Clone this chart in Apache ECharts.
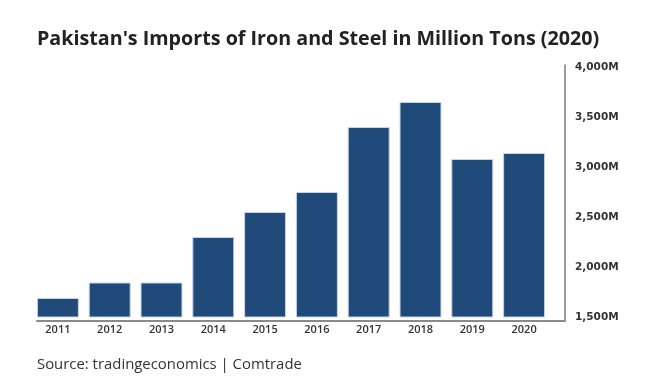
<!DOCTYPE html>
<html>
<head>
<meta charset="utf-8">
<script src="https://cdn.jsdelivr.net/npm/echarts@6/dist/echarts.min.js"></script>
<style>html,body{margin:0;padding:0;background:#fff;}#c{width:652px;height:390px;}</style>
</head>
<body>
<div id="c"></div>
<script>
const years = ['2011','2012','2013','2014','2015','2016','2017','2018','2019','2020'];
const imports = [1690, 1845, 1845, 2300, 2550, 2750, 3400, 3650, 3080, 3140];
const yTicks = [1500, 2000, 2500, 3000, 3500, 4000];
const titleText = "Pakistan's Imports of Iron and Steel in Million Tons (2020)";
const sourceText = 'Source: tradingeconomics | Comtrade';

const chart = echarts.init(document.getElementById('c'), null, {renderer: 'canvas'});
const fontFam = '"Open Sans", Lato, sans-serif';
const axisFam = '"DejaVu Sans", "Open Sans", sans-serif';
chart.setOption({
  backgroundColor: '#ffffff',
  animation: false,
  title: [
    {text: titleText, left: 37, top: 29, padding: 0,
     textStyle: {fontFamily: fontFam, fontSize: 19.7, fontWeight: 'bold', color: '#222'}},
    {text: sourceText, left: 37, top: 357, padding: 0,
     textStyle: {fontFamily: fontFam, fontSize: 14.9, fontWeight: 'normal', color: '#333'}}
  ],
  grid: [
    {left: 32, right: 102, top: 67, bottom: 73},
    {left: 37, right: 87, top: 65, bottom: 69}
  ],
  xAxis: [
    {type: 'category', data: years, gridIndex: 0,
     axisLine: {show: false}, axisTick: {show: false},
     axisLabel: {margin: 7, color: '#333', fontFamily: fontFam, fontSize: 11, fontWeight: 600}},
    {type: 'value', gridIndex: 1, min: 0, max: 1,
     axisLine: {show: true, onZero: false, lineStyle: {color: '#8a8a8a', width: 2}},
     axisTick: {show: false}, axisLabel: {show: false}, splitLine: {show: false}}
  ],
  yAxis: [
    {type: 'value', gridIndex: 0, position: 'right', offset: 14,
     min: yTicks[0], max: yTicks[yTicks.length - 1], interval: 500,
     axisLine: {show: false}, axisTick: {show: false}, splitLine: {show: false},
     axisLabel: {margin: 11, color: '#333', fontFamily: axisFam, fontSize: 10.5, fontWeight: 'bold',
       formatter: v => v.toLocaleString('en-US') + 'M'}},
    {type: 'value', gridIndex: 1, position: 'right', min: 0, max: 1,
     axisLine: {show: true, onZero: false, lineStyle: {color: '#7a7a7a', width: 1.5}},
     axisTick: {show: false}, axisLabel: {show: false}, splitLine: {show: false}}
  ],
  series: [{
    type: 'bar', data: imports, xAxisIndex: 0, yAxisIndex: 0,
    barCategoryGap: '19%',
    itemStyle: {color: '#1f4a7a', borderColor: '#c9d4e2', borderWidth: 1}
  }]
});
</script>
</body>
</html>
